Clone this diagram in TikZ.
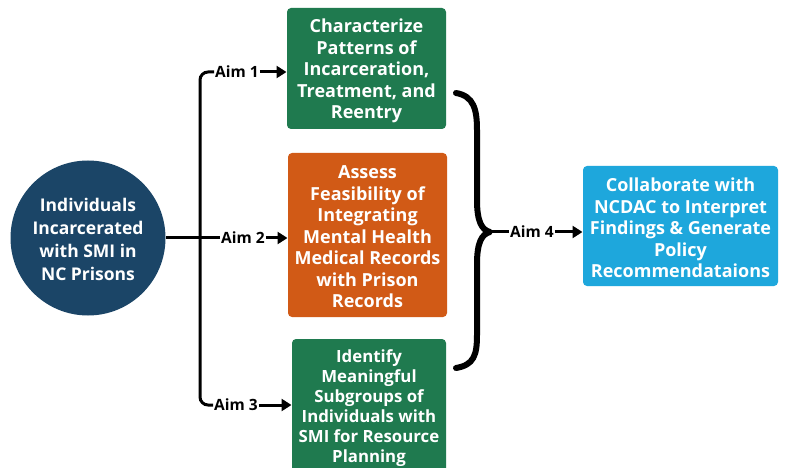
\documentclass[tikz,border=0pt]{standalone}
\usepackage{fontspec}
\setmainfont{Open Sans}
\usetikzlibrary{arrows.meta}
\definecolor{navy}{HTML}{1B4567}
\definecolor{boxgreen}{HTML}{1F7A4F}
\definecolor{boxorange}{HTML}{D15A16}
\definecolor{boxblue}{HTML}{1EA7DC}
\tikzset{
  aimbox/.style={draw=none, rounded corners=4pt, text=white, align=center, font=\bfseries\fontsize{18}{21.5}\selectfont, inner sep=0pt},
  aimlabel/.style={font=\bfseries\fontsize{15.5}{17}\selectfont, inner sep=1pt, text=black},
  conn/.style={line width=3pt, black},
  arr/.style={conn, -{Triangle[length=10pt,width=12pt]}, shorten >=0.5pt},
}
\begin{document}
\begin{tikzpicture}[x=1pt,y=-1pt]
\useasboundingbox (0,0) rectangle (788,468);
\fill[white] (0,0) rectangle (788,468);
% boxes
\path[aimbox, fill=boxgreen] (287,8) rectangle (446,129);
\node[aimbox] (b1) at (366.5,71) {Characterize\\Patterns of\\Incarceration,\\Treatment, and\\Reentry};
\coordinate (b1w) at (287,72);
\path[aimbox, fill=boxorange] (288,153) rectangle (447,317);
\node[aimbox] (b2) at (367.5,237) {Assess\\Feasibility of\\Integrating\\Mental Health\\Medical Records\\with Prison\\Records};
\coordinate (b2w) at (288,238);
\path[aimbox, fill=boxgreen] (292,339) rectangle (446,480);
\node[aimbox, font=\bfseries\fontsize{16.8}{20}\selectfont] (b3) at (369,408) {Identify\\Meaningful\\Subgroups of\\Individuals with\\SMI for Resource\\Planning};
\coordinate (b3w) at (292,405);
\path[aimbox, fill=boxblue] (583,166) rectangle (778,286);
\node[aimbox] (b4) at (680.5,228) {Collaborate with\\NCDAC to Interpret\\Findings \& Generate\\Policy\\Recommendataions};
\coordinate (b4w) at (583,232);
% circle
\node[circle, fill=navy, minimum size=155pt, inner sep=0pt] (c) at (88,238) {};
\node[text=white, align=center, font=\bfseries\fontsize{17.5}{23}\selectfont] (ct) at (88,239) {Individuals\\Incarcerated\\with SMI in\\NC Prisons};
% labels
\node[aimlabel] (a1) at (237,72) {Aim 1};
\node[aimlabel] (a2) at (243,238) {Aim 2};
\node[aimlabel] (a3) at (236,405) {Aim 3};
\node[aimlabel] (a4) at (532,232) {Aim 4};
\coordinate (j) at (200,238);
\coordinate (tip) at (490,232);
% connectors
\draw[conn] (c.east) -- (j);
\draw[conn, rounded corners=8pt] (a1.west) -- (200,72) -- (200,405) -- (a3.west);
\draw[conn] (j) -- (a2.west);
\draw[arr] (a1.east) -- (b1w);
\draw[arr] (a2.east) -- (b2w);
\draw[arr] (a3.east) -- (b3w);
\draw[arr] (a4.east) -- (b4w);
\draw[conn] (tip) -- (a4.west);
% brace
\draw[line width=6pt, line cap=round, line join=round]
  (456,93) .. controls (474,96) and (477,110) .. (477,130)
  -- (477,200) .. controls (477,222) and (482,230) .. (tip)
  .. controls (482,234) and (477,242) .. (477,264)
  -- (477,335) .. controls (477,355) and (474,365) .. (456,368);
\end{tikzpicture}
\end{document}
